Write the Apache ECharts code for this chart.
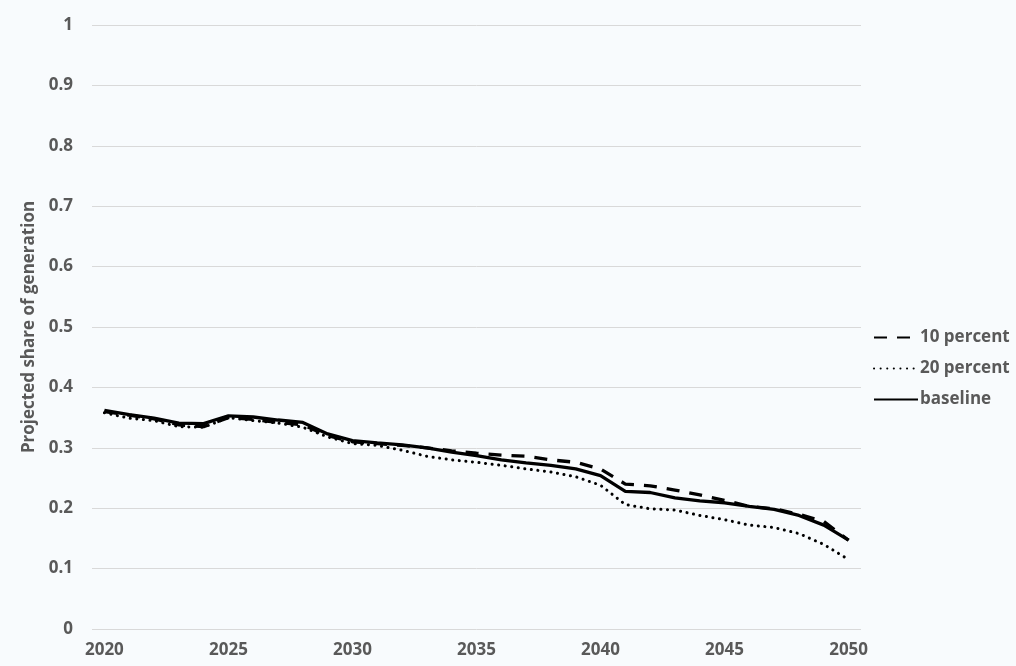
<!DOCTYPE html>
<html>
<head>
<meta charset="utf-8">
<script src="https://cdn.jsdelivr.net/npm/echarts@6/dist/echarts.min.js"></script>
<style>
html,body{margin:0;padding:0;background:#f8fbfd;}
#chart{width:1016px;height:666px;}
</style>
</head>
<body>
<div id="chart"></div>
<script>
const years = [];
for (let y = 2020; y <= 2050; y++) years.push(String(y));
const yTicks = ['0','0.1','0.2','0.3','0.4','0.5','0.6','0.7','0.8','0.9','1'];
const pct10 = [0.360,0.354,0.348,0.338,0.335,0.350,0.347,0.342,0.338,0.320,0.310,
  0.307,0.304,0.300,0.295,0.291,0.288,0.286,0.280,0.276,0.265,
  0.240,0.237,0.230,0.222,0.213,0.203,0.199,0.190,0.178,0.147];
const pct20 = [0.358,0.349,0.345,0.335,0.334,0.350,0.345,0.341,0.334,0.318,0.307,
  0.304,0.296,0.286,0.280,0.276,0.271,0.265,0.260,0.252,0.238,
  0.206,0.199,0.197,0.188,0.181,0.172,0.168,0.158,0.140,0.115];
const baseline = [0.362,0.355,0.349,0.341,0.340,0.353,0.351,0.346,0.342,0.323,0.312,
  0.308,0.305,0.300,0.293,0.287,0.280,0.275,0.271,0.265,0.254,
  0.228,0.226,0.217,0.212,0.209,0.203,0.198,0.188,0.172,0.147];

const font = '"Open Sans", Lato, sans-serif';
const txt = {color:'#595959', fontWeight:'bold', fontSize:17, fontFamily:font};
const chart = echarts.init(document.getElementById('chart'), null, {renderer:'canvas'});
chart.setOption({
  backgroundColor:'#f8fbfd',
  animation:false,
  grid:{left:92, right:155, top:25, bottom:37, containLabel:false},
  legend:{
    orient:'vertical', left:868, top:324, itemGap:14, itemWidth:44, itemHeight:14,
    itemStyle:{opacity:0},
    textStyle:Object.assign({}, txt, {padding:[0,0,0,-3]}),
    data:['10 percent','20 percent','baseline']
  },
  xAxis:{
    type:'category', data:years, boundaryGap:true,
    axisLine:{show:false}, axisTick:{show:false},
    axisLabel:Object.assign({interval:4, margin:13}, txt),
    splitLine:{show:false}
  },
  yAxis:{
    type:'value', min:0, max:1, interval:0.1,
    name:'Projected share of generation', nameLocation:'middle', nameGap:48, nameRotate:90,
    nameTextStyle:txt,
    axisLine:{show:false}, axisTick:{show:false},
    axisLabel:Object.assign({margin:19, formatter:function(v){return yTicks[Math.round(v*10)];}}, txt),
    splitLine:{lineStyle:{color:'#d9d9d9', width:1}}
  },
  series:[
    {name:'10 percent', type:'line', data:pct10, symbol:'none', color:'#000',
     lineStyle:{color:'#000', width:3.3, type:[13,10]}},
    {name:'20 percent', type:'line', data:pct20, symbol:'none', color:'#000',
     lineStyle:{color:'#000', width:3, type:[0.1,6.5], cap:'round'}},
    {name:'baseline', type:'line', data:baseline, symbol:'none', color:'#000',
     lineStyle:{color:'#000', width:3.3}}
  ]
});
</script>
</body>
</html>
